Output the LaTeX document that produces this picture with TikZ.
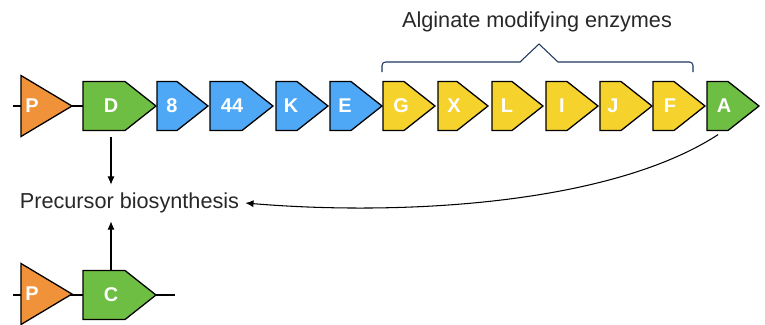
\documentclass[tikz,border=0pt]{standalone}
\usepackage{fontspec}
\setmainfont{Liberation Sans}
\usetikzlibrary{arrows.meta, positioning}
\definecolor{alg-orange}{RGB}{240,146,58}
\definecolor{alg-green}{RGB}{110,190,68}
\definecolor{alg-blue}{RGB}{78,168,245}
\definecolor{alg-yellow}{RGB}{246,210,45}
\definecolor{alg-navy}{RGB}{30,55,95}
\definecolor{alg-text}{RGB}{40,40,40}
\def\u{0.03cm}

% gene arrow: name, left, tip, y, label x, colour, text
\newcommand{\drawgene}[7]{%
  \draw[gene, fill=#6] (#2,#4-24.5) -- (#3-31,#4-24.5) -- (#3,#4) -- (#3-31,#4+24.5) -- (#2,#4+24.5) -- cycle;
  \node[lbl, minimum height=49*\u] (#1) at (#5,#4) {#7};
}
% promoter: name, left, y
\newcommand{\drawprom}[3]{%
  \draw[gene, fill=alg-orange] (#2,#3-30.5) -- (#2+51,#3) -- (#2,#3+30.5) -- cycle;
  \node[lbl] (#1) at (#2+11,#3) {P};
}

\begin{document}
\begin{tikzpicture}[x=\u, y=-\u,
  gene/.style={draw=black, line width=1.1pt, line join=miter},
  lbl/.style={text=white, font=\fontsize{17}{20}\selectfont\bfseries, inner sep=0pt},
  note/.style={text=alg-text, font=\fontsize{18.5}{22}\selectfont},
  arr/.style={-{Latex[length=7pt,width=6pt]}, line width=0.9pt},
  wire/.style={line width=2.4pt},
]
  \useasboundingbox (0,0) rectangle (765,324);

  % backbones
  \draw[wire] (13,106) -- (83,106);
  \draw[wire] (13,295) -- (175,295);

  % top operon
  \drawprom{pTop}{21}{106}
  \drawgene{D}{83}{156}{106}{111}{alg-green}{D}
  \drawgene{g8}{157}{208}{106}{172}{alg-blue}{8}
  \drawgene{g44}{210}{273}{106}{232}{alg-blue}{44}
  \drawgene{K}{276}{328}{106}{291}{alg-blue}{K}
  \drawgene{E}{330}{382}{106}{345}{alg-blue}{E}
  \drawgene{G}{383}{435}{106}{401}{alg-yellow}{G}
  \drawgene{X}{438}{488}{106}{454}{alg-yellow}{X}
  \drawgene{L}{492}{543}{106}{507}{alg-yellow}{L}
  \drawgene{I}{546}{598}{106}{562}{alg-yellow}{I}
  \drawgene{J}{600}{652}{106}{613}{alg-yellow}{J}
  \drawgene{F}{653}{705}{106}{670}{alg-yellow}{F}
  \drawgene{A}{707}{759}{106}{724}{alg-green}{A}

  % bottom operon
  \drawprom{pBot}{21}{294}
  \drawgene{C}{83}{156}{295}{111}{alg-green}{C}

  % brace over modifying enzymes
  \node[note] (alg) at (537,22) {Alginate modifying enzymes};
  \draw[alg-navy, line width=0.9pt]
    (382,72) [rounded corners=3pt] -- (382,62) -- (460,62) [sharp corners] -- (520,62) -- (539,44)
    -- (558,62) -- (620,62) [rounded corners=3pt] -- (693,62) -- (693,72);

  % precursor pathway
  \node[note, inner xsep=6*\u, inner ysep=8*\u] (prec) at (129.5,203) {Precursor biosynthesis};
  \draw[arr, shorten <=6*\u] (D.south) -- (D.south |- prec.north);
  \draw[arr] (C.north) -- (C.north |- prec.south);
  \draw[arr, shorten <=7*\u] (A.south) .. controls (610,205) and (400,216) .. (prec.east);
\end{tikzpicture}
\end{document}
